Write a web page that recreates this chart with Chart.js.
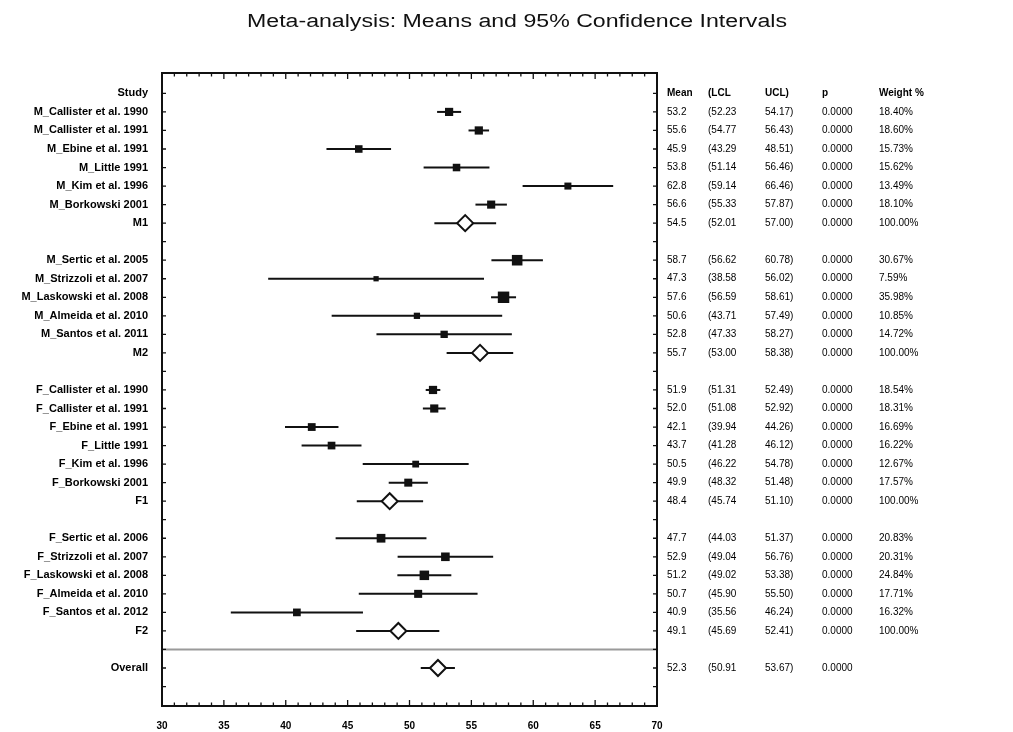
<!DOCTYPE html>
<html>
<head>
<meta charset="utf-8">
<script src="https://cdn.jsdelivr.net/npm/chart.js@4.4.0/dist/chart.umd.min.js"></script>
<style>
    html, body { margin: 0; padding: 0; background: #fff; }
    #wrap { width: 1013px; height: 732px; position: relative; }
</style>
</head>
<body>
<div id="wrap"><canvas id="forest"></canvas></div>
<script>
// One entry per row slot, top to bottom ('' = empty slot)
const rowLabels = [
    'Study',
    'M_Callister et al. 1990', 'M_Callister et al. 1991', 'M_Ebine et al. 1991', 'M_Little 1991',
    'M_Kim et al. 1996', 'M_Borkowski 2001', 'M1', '',
    'M_Sertic et al. 2005', 'M_Strizzoli et al. 2007', 'M_Laskowski et al. 2008',
    'M_Almeida et al. 2010', 'M_Santos et al. 2011', 'M2', '',
    'F_Callister et al. 1990', 'F_Callister et al. 1991', 'F_Ebine et al. 1991', 'F_Little 1991',
    'F_Kim et al. 1996', 'F_Borkowski 2001', 'F1', '',
    'F_Sertic et al. 2006', 'F_Strizzoli et al. 2007', 'F_Laskowski et al. 2008',
    'F_Almeida et al. 2010', 'F_Santos et al. 2012', 'F2', '',
    'Overall'
];
const means = [null, 53.2, 55.6, 45.9, 53.8, 62.8, 56.6, 54.5, null,
    58.7, 47.3, 57.6, 50.6, 52.8, 55.7, null,
    51.9, 52.0, 42.1, 43.7, 50.5, 49.9, 48.4, null,
    47.7, 52.9, 51.2, 50.7, 40.9, 49.1, null, 52.3];
const lcl = [null, 52.23, 54.77, 43.29, 51.14, 59.14, 55.33, 52.01, null,
    56.62, 38.58, 56.59, 43.71, 47.33, 53.00, null,
    51.31, 51.08, 39.94, 41.28, 46.22, 48.32, 45.74, null,
    44.03, 49.04, 49.02, 45.90, 35.56, 45.69, null, 50.91];
const ucl = [null, 54.17, 56.43, 48.51, 56.46, 66.46, 57.87, 57.00, null,
    60.78, 56.02, 58.61, 57.49, 58.27, 58.38, null,
    52.49, 52.92, 44.26, 46.12, 54.78, 51.48, 51.10, null,
    51.37, 56.76, 53.38, 55.50, 46.24, 52.41, null, 53.67];
const pValues = [null, '0.0000', '0.0000', '0.0000', '0.0000', '0.0000', '0.0000', '0.0000', null,
    '0.0000', '0.0000', '0.0000', '0.0000', '0.0000', '0.0000', null,
    '0.0000', '0.0000', '0.0000', '0.0000', '0.0000', '0.0000', '0.0000', null,
    '0.0000', '0.0000', '0.0000', '0.0000', '0.0000', '0.0000', null, '0.0000'];
const weights = [null, 18.40, 18.60, 15.73, 15.62, 13.49, 18.10, 100.00, null,
    30.67, 7.59, 35.98, 10.85, 14.72, 100.00, null,
    18.54, 18.31, 16.69, 16.22, 12.67, 17.57, 100.00, null,
    20.83, 20.31, 24.84, 17.71, 16.32, 100.00, null, null];
const pooledRows = ['M1', 'M2', 'F1', 'F2', 'Overall'];
const tableHeaders = ['Mean', '(LCL', 'UCL)', 'p', 'Weight %'];
const xTicks = [30, 35, 40, 45, 50, 55, 60, 65, 70];
const separatorSlot = 30;
const title = 'Meta-analysis: Means and 95% Confidence Intervals';

Chart.defaults.font.family = '"Liberation Sans", Arial, sans-serif';
Chart.defaults.color = '#000';

// Build datasets
const rowIdx = rowLabels.map((_, k) => k).filter(k => means[k] !== null);
const studyRows = rowIdx.filter(k => !pooledRows.includes(rowLabels[k]));
const pooled = rowIdx.filter(k => pooledRows.includes(rowLabels[k]));

const whiskerSets = rowIdx.map(k => ({
    type: 'scatter',
    data: [{ x: lcl[k], y: k }, { x: ucl[k], y: k }],
    showLine: true,
    borderColor: '#111',
    borderWidth: 2,
    pointRadius: 0,
    order: 2
}));

const studySet = {
    type: 'scatter',
    data: studyRows.map(k => ({ x: means[k], y: k, w: weights[k] })),
    pointStyle: 'rect',
    pointRadius: c => 1.35 * Math.sqrt(c.raw ? c.raw.w : 10),
    backgroundColor: '#111',
    borderColor: '#111',
    borderWidth: 0,
    order: 0
};

const pooledSet = {
    type: 'scatter',
    data: pooled.map(k => ({ x: means[k], y: k })),
    pointStyle: 'rectRot',
    pointRadius: 8,
    backgroundColor: '#fff',
    borderColor: '#111',
    borderWidth: 2,
    order: 0
};

// Box, inward ticks, separator, table and title
const forestDecor = {
    id: 'forestDecor',
    beforeDatasetsDraw(chart) {
        const { ctx, chartArea: a, scales: { y } } = chart;
        const yy = y.getPixelForValue(separatorSlot);
        ctx.save();
        ctx.strokeStyle = '#9a9a9a';
        ctx.lineWidth = 2;
        ctx.beginPath();
        ctx.moveTo(a.left, yy);
        ctx.lineTo(a.right, yy);
        ctx.stroke();
        ctx.restore();
    },
    afterDatasetsDraw(chart) {
        const { ctx, chartArea: a, scales: { x, y } } = chart;
        ctx.save();
        ctx.strokeStyle = '#111';
        ctx.lineWidth = 2;
        ctx.strokeRect(a.left, a.top, a.right - a.left, a.bottom - a.top);

        ctx.lineWidth = 1.3;
        ctx.beginPath();
        for (let v = x.min; v <= x.max; v++) {
            const px = x.getPixelForValue(v);
            const len = v % 5 === 0 ? 6 : 3.5;
            ctx.moveTo(px, a.bottom); ctx.lineTo(px, a.bottom - len);
            ctx.moveTo(px, a.top); ctx.lineTo(px, a.top + len);
        }
        for (let k = 0; k <= 32; k++) {
            const py = y.getPixelForValue(k);
            ctx.moveTo(a.left, py); ctx.lineTo(a.left + 4, py);
            ctx.moveTo(a.right, py); ctx.lineTo(a.right - 4, py);
        }
        ctx.stroke();

        // table to the right of the plot
        const cols = [667, 708, 765, 822, 879];
        ctx.fillStyle = '#000';
        ctx.textBaseline = 'middle';
        ctx.textAlign = 'left';
        ctx.font = 'bold 10px "Liberation Sans", Arial, sans-serif';
        const hy = y.getPixelForValue(0);
        tableHeaders.forEach((h, i) => ctx.fillText(h, cols[i], hy));
        ctx.font = '10px "Liberation Sans", Arial, sans-serif';
        rowIdx.forEach(k => {
            const py = y.getPixelForValue(k);
            ctx.fillText(means[k].toFixed(1), cols[0], py);
            ctx.fillText('(' + lcl[k].toFixed(2), cols[1], py);
            ctx.fillText(ucl[k].toFixed(2) + ')', cols[2], py);
            ctx.fillText(pValues[k], cols[3], py);
            if (weights[k] !== null) ctx.fillText(weights[k].toFixed(2) + '%', cols[4], py);
        });

        // title, stretched to the reference width
        ctx.font = '18px "Liberation Sans", Arial, sans-serif';
        ctx.fillStyle = '#111';
        const tw = ctx.measureText(title).width;
        const sx = 540 / tw;
        ctx.translate(517, 22);
        ctx.scale(sx, 1);
        ctx.textAlign = 'center';
        ctx.fillText(title, 0, 0);
        ctx.restore();
    }
};

new Chart(document.getElementById('forest'), {
    type: 'scatter',
    data: { datasets: [studySet, pooledSet, ...whiskerSets] },
    options: {
        responsive: true,
        maintainAspectRatio: false,
        animation: false,
        events: [],
        layout: { padding: { top: 73, right: 356, bottom: 0, left: 0 } },
        plugins: { legend: { display: false }, tooltip: { enabled: false } },
        scales: {
            x: {
                type: 'linear',
                min: 30,
                max: 70,
                afterBuildTicks: s => { s.ticks = xTicks.map(v => ({ value: v })); },
                afterFit: s => { s.height = 26; },
                grid: { display: false },
                border: { display: false },
                ticks: { font: { size: 10, weight: 'bold' }, padding: 6, maxRotation: 0 }
            },
            y: {
                type: 'linear',
                reverse: true,
                min: -1.1,
                max: 33.05,
                afterBuildTicks: s => { s.ticks = rowLabels.map((_, k) => ({ value: k })); },
                afterFit: s => { s.width = 162; },
                grid: { display: false },
                border: { display: false },
                ticks: {
                    font: { size: 11, weight: 'bold' },
                    padding: 6,
                    autoSkip: false,
                    callback: v => rowLabels[v] || ''
                }
            }
        }
    },
    plugins: [forestDecor]
});
</script>
</body>
</html>
